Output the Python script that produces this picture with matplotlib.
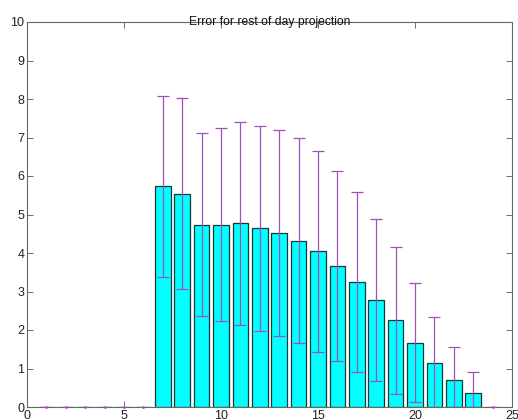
import numpy as np
import matplotlib.pyplot as plt

# hour of day, mean error and std of error for rest of day projection
hours = np.arange(1, 25)
err_mean = [0, 0, 0, 0, 0, 0, 5.73, 5.54, 4.74, 4.74, 4.77, 4.64,
            4.52, 4.32, 4.05, 3.66, 3.25, 2.78, 2.25, 1.67, 1.14, 0.69, 0.37, 0]
err_std = [0, 0, 0, 0, 0, 0, 2.36, 2.48, 2.37, 2.51, 2.63, 2.66,
           2.67, 2.66, 2.61, 2.47, 2.33, 2.11, 1.91, 1.55, 1.21, 0.88, 0.54, 0]

mean = np.array(err_mean)
std = np.array(err_std)
nz = mean > 0

plt.rcParams['font.family'] = ['Liberation Sans', 'DejaVu Sans']

fig = plt.figure(figsize=(5.18, 4.2), dpi=100)
ax = fig.add_axes([27 / 518, 13 / 420, 485 / 518, 385 / 420])

ax.bar(hours, mean, width=0.8, color='#00ffff', edgecolor='#103838', linewidth=0.9, zorder=2)
ax.errorbar(hours[nz], mean[nz], yerr=std[nz], fmt='none', ecolor='#a050b8',
            elinewidth=0.9, capsize=4.5, capthick=0.9, zorder=3)
ax.plot(hours[~nz], mean[~nz], ls='none', marker='o', ms=2, color='#c040d0',
        mec='none', zorder=3, clip_on=False)

ax.set_xlim(0, 25)
ax.set_ylim(0, 10)
ax.set_xticks(range(0, 26, 5))
ax.set_yticks(range(0, 11))
ax.tick_params(direction='in', top=True, right=True, length=4, width=0.6,
               colors='#555555', labelcolor='#222222', labelsize=9, pad=2)
for s in ax.spines.values():
    s.set_color('#666666')
    s.set_linewidth(0.8)

ax.set_title('Error for rest of day projection', fontsize=8.7, pad=-2, color='#111111')

fig.savefig('out.png', dpi=100)
